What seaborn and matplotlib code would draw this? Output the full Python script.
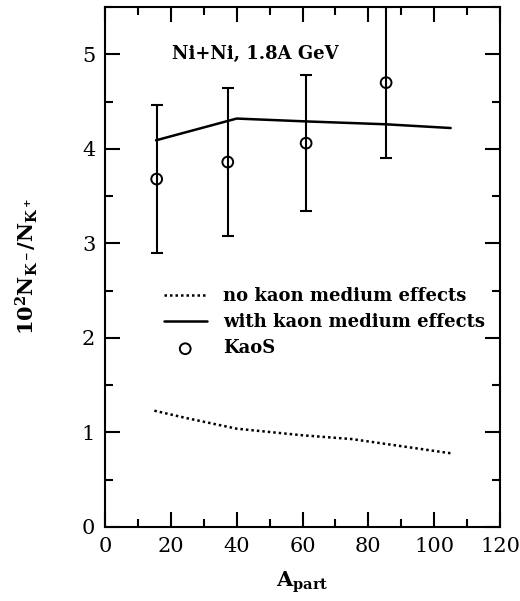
import numpy as np
import pandas as pd
import seaborn as sns
import matplotlib
matplotlib.use("Agg")
import matplotlib.pyplot as plt
from matplotlib.ticker import MultipleLocator

# Data
no_med_x = [15, 25, 40, 60, 75, 85, 105]
no_med_y = [1.23, 1.15, 1.04, 0.97, 0.93, 0.88, 0.78]
with_med_x = [15.5, 40, 61, 85, 105]
with_med_y = [4.09, 4.32, 4.29, 4.26, 4.22]
kaos_x = [15.7, 37.3, 61.1, 85.4]
kaos_y = [3.68, 3.86, 4.06, 4.70]
kaos_err = [0.78, 0.78, 0.72, 0.80]

sns.set_theme(style="ticks")
plt.rcParams['font.family'] = ['DejaVu Serif', 'DejaVu Sans']
plt.rcParams['mathtext.fontset'] = 'dejavuserif'
plt.rcParams['text.color'] = 'black'
plt.rcParams['axes.labelcolor'] = 'black'

fig = plt.figure(figsize=(5.2, 6.01), dpi=100)
ax = fig.add_axes([105/520, 1-527/601, 395/520, 520/601])

df_no = pd.DataFrame({"x": no_med_x, "y": no_med_y})
df_with = pd.DataFrame({"x": with_med_x, "y": with_med_y})
df_k = pd.DataFrame({"x": kaos_x, "y": kaos_y})

sns.lineplot(data=df_no, x="x", y="y", ax=ax, color="black", lw=1.8,
             linestyle=(0, (1, 1.2)), label="no kaon medium effects", sort=False)
sns.lineplot(data=df_with, x="x", y="y", ax=ax, color="black", lw=1.8,
             label="with kaon medium effects", sort=False)
ax.errorbar(kaos_x, kaos_y, yerr=kaos_err, fmt="none", ecolor="black",
            elinewidth=1.5, capsize=4.3, capthick=1.5)
sns.scatterplot(data=df_k, x="x", y="y", ax=ax, marker="o", s=60,
                facecolors="none", edgecolor="black", linewidth=1.4,
                label="KaoS", zorder=5)

ax.set_xlim(0, 120)
ax.set_ylim(0, 5.5)
ax.xaxis.set_major_locator(MultipleLocator(20))
ax.xaxis.set_minor_locator(MultipleLocator(10))
ax.yaxis.set_major_locator(MultipleLocator(1))
ax.yaxis.set_minor_locator(MultipleLocator(0.5))
ax.tick_params(which="both", direction="in", top=True, right=True,
               width=1.5, colors="black", labelsize=15)
ax.tick_params(which="major", length=11, pad=7)
ax.tick_params(which="minor", length=5.5)
for s in ax.spines.values():
    s.set_linewidth(1.5)
    s.set_color("black")

ax.set_xlabel(r"$\mathbf{A}_{\mathbf{part}}$", fontsize=15, labelpad=10)
ax.set_ylabel(r"$\mathbf{10^2N_{K^-}/N_{K^+}}$", fontsize=15, labelpad=30)

ax.text(20.5, 5.0, "Ni+Ni, 1.8A GeV", fontsize=13, fontweight="bold",
        va="center", ha="left")

leg = ax.legend(loc="upper left", bbox_to_anchor=(0.13, 0.475), frameon=False,
                prop={"size": 13, "weight": "bold"}, handlelength=2.4,
                handletextpad=0.9, labelspacing=0.45, borderaxespad=0)

fig.savefig("out.png", dpi=100)
